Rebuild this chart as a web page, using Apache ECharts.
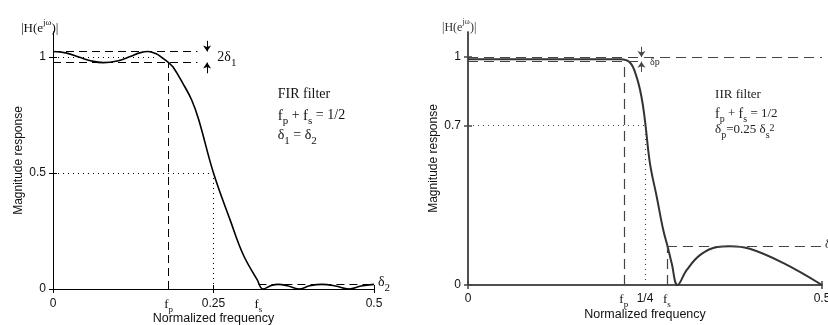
<!DOCTYPE html>
<html><head><meta charset="utf-8">
<script src="https://cdn.jsdelivr.net/npm/echarts@6/dist/echarts.min.js"></script>
<style>html,body{margin:0;padding:0;background:#fff}#c{width:828px;height:325px}</style>
</head><body><div id="c"></div>
<script>
// ---------- FIR panel data ----------
const FIR_FREQ = [0, 0.02, 0.04, 0.06, 0.078, 0.10, 0.12, 0.135, 0.148, 0.16, 0.17, 0.18, 0.187, 0.202, 0.216, 0.227, 0.25, 0.276, 0.296, 0.318, 0.327, 0.34, 0.351, 0.365, 0.383, 0.40, 0.419, 0.44, 0.461, 0.48, 0.5];
const FIR_MAG  = [1.024, 1.018, 1.0, 0.983, 0.976, 0.983, 1.002, 1.018, 1.024, 1.015, 0.997, 0.976, 0.957, 0.888, 0.815, 0.73, 0.5, 0.297, 0.15, 0.04, 0, 0.015, 0.02, 0.014, 0, 0.014, 0.02, 0.013, 0, 0.013, 0.02];
const FIR_X_TICKS = [0, 0.18, 0.25, 0.32, 0.5];
const FIR_X_LABELS = ['0', 'fp', '0.25', 'fs', '0.5'];
const FIR_X_MARKS = [0, 0.25, 0.5];
const FIR_Y_TICKS = [0, 0.5, 1];
const FIR_Y_LABELS = ['0', '0.5', '1'];
const FIR_FP = 0.18, FIR_FS = 0.32, FIR_D1 = 0.024, FIR_D2 = 0.02;

// ---------- IIR panel data ----------
const IIR_FREQ = [0, 0.1, 0.2, 0.215, 0.229, 0.238, 0.245, 0.25, 0.257, 0.2665, 0.2758, 0.282, 0.2877, 0.296, 0.309, 0.328, 0.352, 0.37, 0.398, 0.445, 0.5];
const IIR_MAG  = [0.99, 0.99, 0.99, 0.99, 0.975, 0.914, 0.826, 0.72, 0.534, 0.388, 0.241, 0.168, 0.095, 0, 0.066, 0.132, 0.167, 0.17, 0.159, 0.097, 0];
const IIR_X_TICKS = [0, 0.22, 0.25, 0.281, 0.5];
const IIR_X_LABELS = ['0', 'fp', '1/4', 'fs', '0.5'];
const IIR_X_MARKS = [0, 0.5];
const IIR_Y_TICKS = [0, 0.7, 1];
const IIR_Y_LABELS = ['0', '0.7', '1'];
const IIR_FP = 0.22, IIR_FS = 0.281, IIR_DP = 0.02, IIR_DS = 0.17;

const SERIF = "'Liberation Serif','Times New Roman',serif";
const SANS = "'Liberation Sans',Arial,sans-serif";

function rich(size, color, subSize) {
  const L = size + 4;
  const s = subSize || size - 4;
  return {
    n:   {fontFamily: SANS,  fontSize: size, fontWeight: 'normal', color, lineHeight: L, verticalAlign: 'top'},
    t:   {fontFamily: SERIF, fontSize: size, fontWeight: 'normal', color, lineHeight: L, verticalAlign: 'top'},
    f:   {fontFamily: SERIF, fontSize: size + 1, fontWeight: 'normal', color, lineHeight: L, verticalAlign: 'top'},
    sub: {fontFamily: SERIF, fontSize: s, fontWeight: 'normal', color, lineHeight: L, verticalAlign: 'bottom'},
    sup: {fontFamily: SERIF, fontSize: s, fontWeight: 'normal', color, lineHeight: L, verticalAlign: 'top'},
    tb:  {fontFamily: SERIF, fontSize: size, fontWeight: 'normal', color, lineHeight: L, verticalAlign: 'bottom'}
  };
}
function fmtLabel(s) {
  if (s === 'fp') return '{f|f}{sub|p}';
  if (s === 'fs') return '{f|f}{sub|s}';
  return '{n|' + s + '}';
}
function pick(ticks, labels) {
  return function (v) {
    const i = ticks.findIndex(t => Math.abs(t - v) < 1e-9);
    return i >= 0 ? labels[i] : '';
  };
}

function xAxisPair(gi, ticks, labels, marks, color, lw, size, margin, nameGap) {
  const f = pick(ticks, labels);
  return [
    {type: 'value', gridIndex: gi, position: 'bottom', min: 0, max: 0.5, interval: 0.25,
     name: 'Normalized frequency', nameLocation: 'middle', nameGap, nameMoveOverlap: false,
     nameTextStyle: {fontFamily: SANS, fontSize: 12.5, color: '#111'},
     axisLine: {show: true, lineStyle: {color, width: lw}},
     axisTick: {show: true, inside: true, length: 4, customValues: marks, lineStyle: {color, width: lw}},
     axisLabel: {show: true, customValues: ticks, margin, formatter: v => fmtLabel(f(v)), rich: rich(size, '#111', size - 3)},
     splitLine: {show: false}},
    {type: 'value', gridIndex: gi, position: 'top', min: 0, max: 0.5, interval: 0.25,
     axisLine: {show: true, lineStyle: {color, width: lw}},
     axisTick: {show: true, inside: true, length: 4, customValues: marks, lineStyle: {color, width: lw}},
     axisLabel: {show: false}, splitLine: {show: false}}
  ];
}
function yAxisPair(gi, max, ticks, labels, color, lw, size, nameGap) {
  const f = pick(ticks, labels);
  return [
    {type: 'value', gridIndex: gi, position: 'left', min: 0, max, interval: 0.1,
     name: 'Magnitude response', nameLocation: 'middle', nameGap, nameRotate: 90, nameMoveOverlap: false,
     nameTextStyle: {fontFamily: SANS, fontSize: 12, color: '#111'},
     axisLine: {show: true, lineStyle: {color, width: lw}},
     axisTick: {show: true, inside: true, length: 4, customValues: ticks, lineStyle: {color, width: lw}},
     axisLabel: {show: true, customValues: ticks, margin: 7, formatter: v => f(v),
                 fontFamily: SANS, fontSize: size, color: '#111'},
     splitLine: {show: false}},
    {type: 'value', gridIndex: gi, position: 'right', min: 0, max, interval: 0.1,
     axisLine: {show: true, lineStyle: {color, width: lw}},
     axisTick: {show: true, inside: true, length: 4, customValues: ticks, lineStyle: {color, width: lw}},
     axisLabel: {show: false}, splitLine: {show: false}}
  ];
}

function seg(x1, y1, x2, y2, type, color, width) {
  return [{coord: [x1, y1], symbol: 'none', lineStyle: {type, color, width}}, {coord: [x2, y2], symbol: 'none'}];
}
function arrow(x, yFrom, yTo, color) {
  return [{coord: [x, yFrom], symbol: 'none', lineStyle: {type: 'solid', color, width: 1}},
          {coord: [x, yTo], symbol: 'arrow', symbolSize: [6, 6]}];
}
function note(x, y, text, size, color, offset) {
  return {coord: [x, y], value: 0, symbol: 'circle', symbolSize: 1, itemStyle: {color: 'rgba(0,0,0,0)'},
          label: {show: true, position: 'inside', align: 'left', verticalAlign: 'middle', offset: offset || [0, 0],
                  formatter: text, rich: rich(size, color, size - 3)}};
}

const DASH = [8, 5], DOT = [1, 4];
const K = '#000', G = '#444';

const firLines = [
  seg(0, 1 + FIR_D1, 0.225, 1 + FIR_D1, DASH, K, 1),
  seg(0, 1 - FIR_D1, 0.225, 1 - FIR_D1, DASH, K, 1),
  seg(0, 1, 0.163, 1, DOT, K, 1),
  seg(FIR_FP, 0, FIR_FP, 1 - FIR_D1, DASH, K, 1),
  seg(0, 0.5, 0.25, 0.5, DOT, K, 1),
  seg(0.25, 0, 0.25, 0.5, DOT, K, 1),
  seg(FIR_FS, FIR_D2, 0.5, FIR_D2, DASH, K, 1),
  arrow(0.24, 1.07, 1 + FIR_D1, K),
  arrow(0.24, 0.93, 1 - FIR_D1, K)
];
const firNotes = [
  note(0.35, 0.829, '{t|FIR filter}', 14, '#111'),
  note(0.35, 0.739, '{f|f}{sub|p}{t| + }{f|f}{sub|s}{t| = 1/2}', 14, '#111'),
  note(0.35, 0.652, '{t|δ}{sub|1}{t| = δ}{sub|2}', 14, '#111'),
  note(0.256, 0.99, '{t|2δ}{sub|1}', 14, '#111'),
  note(0.5, FIR_D2, '{t|δ}{sub|2}', 14, '#111', [4, 0])
];

const iirLines = [
  seg(0, 1, 0.5, 1, [10, 6], G, 1.2),
  seg(0, 1 - IIR_DP, 0.24, 1 - IIR_DP, [10, 6], G, 1.2),
  seg(IIR_FP, 0, IIR_FP, 1 - IIR_DP, [10, 6], G, 1.2),
  seg(0, 0.7, 0.25, 0.7, DOT, G, 1.2),
  seg(0.25, 0, 0.25, 0.7, DOT, G, 1.2),
  seg(IIR_FS, 0, IIR_FS, IIR_DS, [10, 6], G, 1.2),
  seg(IIR_FS, IIR_DS, 0.5, IIR_DS, [10, 6], G, 1.2),
  arrow(0.245, 1.045, 1, G),
  arrow(0.245, 0.935, 1 - IIR_DP, G)
];
const iirNotes = [
  note(0.349, 0.825, '{t|IIR filter}', 13, '#222'),
  note(0.349, 0.742, '{f|f}{sub|p}{t| + }{f|f}{sub|s}{t| = 1/2}', 13, '#222'),
  note(0.349, 0.672, '{t|δ}{sub|p}{t|=0.25 δ}{sub|s}{sup|2}', 13, '#222'),
  note(0.257, 0.97, '{t|δp}', 10, '#333'),
  note(0.5, IIR_DS, '{t|δ}{sub|s}', 13, '#222', [3, 0])
];

const chart = echarts.init(document.getElementById('c'), null, {renderer: 'canvas'});
chart.setOption({
  animation: false,
  backgroundColor: '#fff',
  title: [
    {left: 16, top: 13, text: '{tb||H(e}{sup|jω}{tb|)|}', textStyle: {fontWeight: 'normal', rich: rich(13, '#111', 9)}},
    {left: 437, top: 13, text: '{tb||H(e}{sup|jω}{tb|)|}', textStyle: {fontWeight: 'normal', rich: rich(12, '#333', 8)}}
  ],
  grid: [
    {left: 53, top: 32, width: 321, height: 257, containLabel: false, outerBoundsMode: 'none'},
    {left: 468, top: 32, width: 354, height: 253, containLabel: false, outerBoundsMode: 'none'}
  ],
  xAxis: [
    ...xAxisPair(0, FIR_X_TICKS, FIR_X_LABELS, FIR_X_MARKS, K, 1, 12, 9, 23),
    ...xAxisPair(1, IIR_X_TICKS, IIR_X_LABELS, IIR_X_MARKS, G, 1.5, 12, 8, 23)
  ],
  yAxis: [
    ...yAxisPair(0, 1.108, FIR_Y_TICKS, FIR_Y_LABELS, K, 1, 12, 28),
    ...yAxisPair(1, 1.11, IIR_Y_TICKS, IIR_Y_LABELS, G, 1.5, 12, 28)
  ],
  series: [
    {type: 'line', xAxisIndex: 0, yAxisIndex: 0, smooth: 0.4, showSymbol: false, symbol: 'none',
     lineStyle: {color: K, width: 1.6}, data: FIR_FREQ.map((f, i) => [f, FIR_MAG[i]]),
     markLine: {silent: true, animation: false, symbol: ['none', 'none'], label: {show: false}, data: firLines},
     markPoint: {silent: true, animation: false, data: firNotes}},
    {type: 'line', xAxisIndex: 2, yAxisIndex: 2, smooth: 0.4, showSymbol: false, symbol: 'none',
     lineStyle: {color: '#333', width: 2}, data: IIR_FREQ.map((f, i) => [f, IIR_MAG[i]]),
     markLine: {silent: true, animation: false, symbol: ['none', 'none'], label: {show: false}, data: iirLines},
     markPoint: {silent: true, animation: false, data: iirNotes}}
  ]
});
</script>
</body></html>
